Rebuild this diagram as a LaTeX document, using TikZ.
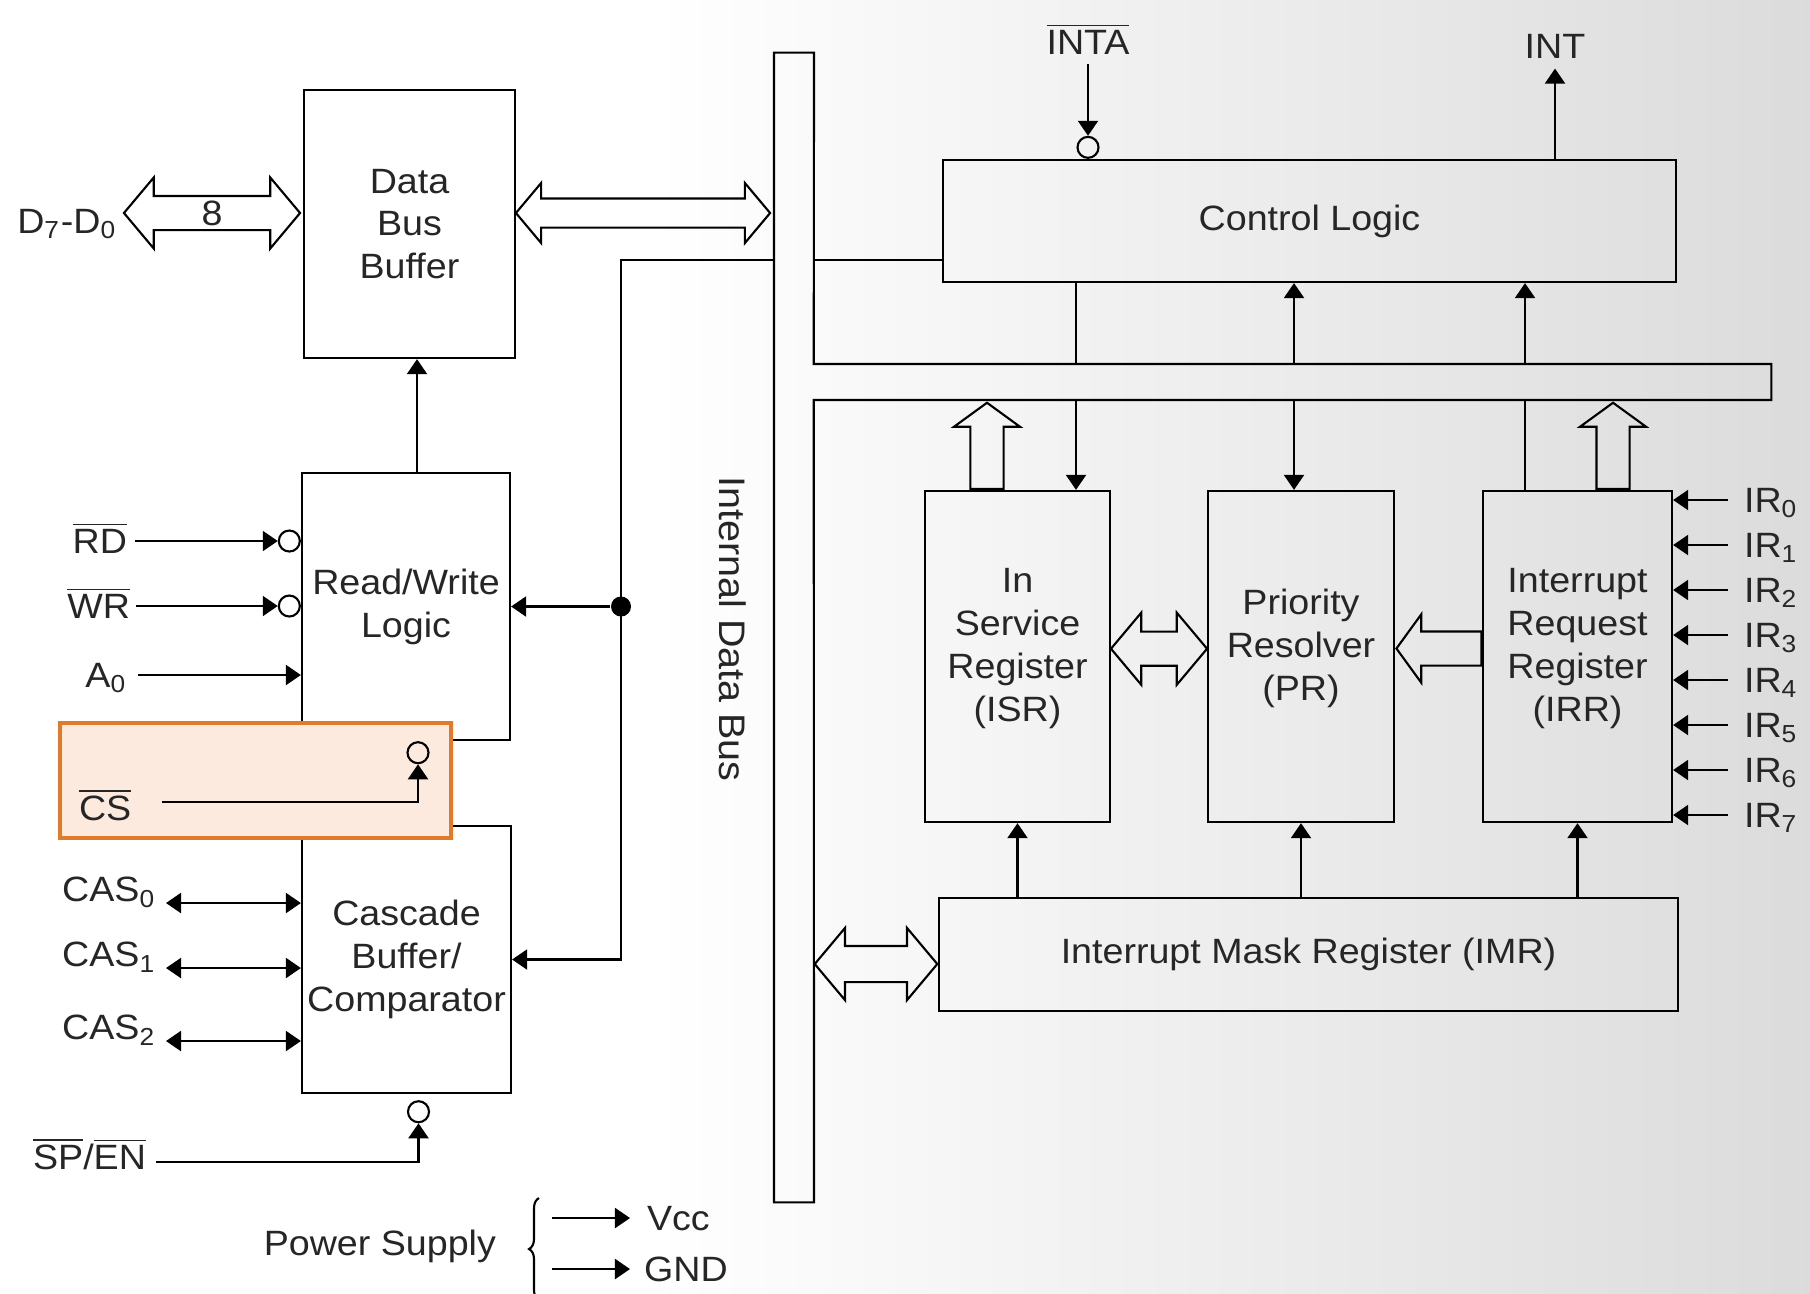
\documentclass[tikz,border=0pt]{standalone}
\usepackage{fontspec}
\setmainfont{Liberation Sans}[FakeStretch=1.07]
\usetikzlibrary{arrows.meta, positioning, shapes.arrows, calc, decorations.pathreplacing}

\definecolor{csfill}{HTML}{FDEADF}
\definecolor{csline}{HTML}{E07B2C}
\newcommand{\ovl}[1]{$\overline{\mbox{#1}}$}
\pgfdeclarehorizontalshading{backdrop}{100bp}{color(0bp)=(white); color(43bp)=(white); color(75bp)=(black!14); color(100bp)=(black!14)}

\begin{document}
\begin{tikzpicture}[
  x=0.01cm, y=-0.01cm,
  font=\fontsize{10}{12.2}\selectfont, text=black!85,
  line width=0.6pt,
  blk/.style={draw, inner sep=0pt, align=center},
  lbl/.style={inner sep=0pt, text height=0.25cm, text depth=0pt},
  arr/.style={-{Triangle[length=0.15cm, width=0.2cm]}},
  biarr/.style={{Triangle[length=0.15cm, width=0.2cm]}-{Triangle[length=0.15cm, width=0.2cm]}},
  bub/.style={circle, draw, inner sep=0pt, minimum size=0.21cm},
  jdot/.style={circle, fill, inner sep=0pt, minimum size=0.2cm},
  fat/.style={double arrow, draw, inner xsep=0pt, inner ysep=#1, text height=0pt, text depth=0pt, double arrow tip angle=100},
  fatone/.style={single arrow, draw, inner sep=#1, text height=0pt, text depth=0pt, single arrow tip angle=108},
  busrect/.style={inner sep=0pt, outer sep=0pt}
]
  % page and backdrop
  \useasboundingbox (0,0) rectangle (1810,1293);
  \shade[shading=backdrop] (0,0) rectangle (1810,1293);

  % blocks
  \node[blk, minimum width=2.11cm, minimum height=2.68cm] (dbb) at (409.5,224) {Data\\Bus\\Buffer};
  \node[blk, minimum width=2.08cm, minimum height=2.67cm] (rw) at (406,606.5) {Read/Write\\Logic};
  \node[blk, minimum width=2.09cm, minimum height=2.67cm] (cbc) at (406.5,959.5) {Cascade\\Buffer/\\Comparator};
  \node[blk, minimum width=7.33cm, minimum height=1.22cm] (ctl) at (1309.5,221) {Control Logic};
  \node[blk, text depth=0.23cm, minimum width=1.85cm, minimum height=3.31cm] (isr) at (1017.5,656.5) {In\\Service\\Register\\(ISR)};
  \node[blk, text depth=0.23cm, minimum width=1.86cm, minimum height=3.31cm] (pr) at (1301,656.5) {Priority\\Resolver\\(PR)};
  \node[blk, text depth=0.23cm, minimum width=1.89cm, minimum height=3.31cm] (irr) at (1577.5,656.5) {Interrupt\\Request\\Register\\(IRR)};
  \node[blk, minimum width=7.39cm, minimum height=1.13cm] (imr) at (1308.5,954.5) {Interrupt Mask Register (IMR)};

  % internal data bus
  \node[busrect, minimum width=0.4cm, minimum height=11.49cm] (vbus) at (794,627.5) {};
  \node[busrect, minimum width=9.57cm, minimum height=0.36cm] (hbus) at (1292.5,382) {};
  \draw (vbus.north west) -- (vbus.north east) -- (hbus.north west) -- (hbus.north east)
    -- (hbus.south east) -- (hbus.south west) -- (vbus.south east) -- (vbus.south west) -- cycle;
  \node[rotate=-90, font=\fontsize{10.5}{12}\selectfont] (busname) at (733,629) {Internal Data Bus};

  % wide data paths
  \node[fat=0.035cm, text height=0.25cm, minimum height=1.76cm, minimum width=0.69cm, double arrow head extend=0.185cm] (dpins) at (212,213) {8};
  \node[fat=0.135cm, minimum height=2.54cm, minimum width=0.58cm, double arrow head extend=0.155cm] (dlink) at (643,213) {};
  \node[fat=0.16cm, minimum height=0.96cm, minimum width=0.70cm, double arrow head extend=0.19cm] (isrpr) at (1159,648.7) {};
  \node[fat=0.17cm, minimum height=1.225cm, minimum width=0.70cm, double arrow head extend=0.18cm] (imrlink) at (876,964) {};
  \node[fatone=0.155cm, shape border rotate=90, minimum height=0.86cm, minimum width=0.64cm, single arrow head extend=0.165cm, anchor=tail] (isrup) at ([xshift=-0.305cm]isr.north) {};
  \node[fatone=0.155cm, shape border rotate=90, minimum height=0.86cm, minimum width=0.64cm, single arrow head extend=0.165cm, anchor=tail] (irrup) at ([xshift=0.355cm]irr.north) {};
  \node[fatone=0.16cm, shape border rotate=180, minimum height=0.85cm, minimum width=0.667cm, single arrow head extend=0.17cm, anchor=tip] (irrpr) at ([yshift=0.08cm]pr.east) {};

  % control logic and bus taps
  \coordinate (xa) at (1076,0);
  \coordinate (xb) at (1294,0);
  \coordinate (xc) at (1525,0);
  \draw (ctl.south -| xa) -- (hbus.north -| xa);
  \draw[arr] (hbus.south -| xa) -- (isr.north -| xa);
  \draw[arr] (hbus.north -| xb) -- (ctl.south -| xb);
  \draw[arr] (hbus.south -| xb) -- (pr.north -| xb);
  \draw[arr] (hbus.north -| xc) -- (ctl.south -| xc);
  \draw (hbus.south -| xc) -- (irr.north -| xc);
  \draw[arr] (imr.north -| isr.south) -- (isr.south);
  \draw[arr] (imr.north -| pr.south) -- (pr.south);
  \draw[arr] (imr.north -| irr.south) -- (irr.south);

  \node[lbl] (inta) at (1088,42) {\ovl{INTA}};
  \node[bub, anchor=south] (intab) at (inta |- ctl.north) {};
  \draw[arr] ([yshift=-0.08cm]inta.south) -- (intab.north);
  \node[lbl] (int) at (1555,46) {INT};
  \draw[arr] (ctl.north -| int) -- ([yshift=-0.09cm]int.south);

  % interrupt request inputs
  \foreach \i in {0,...,7} {
    \node[lbl, anchor=west] (ir\i) at (1743,{500+45*\i}) {IR\textsubscript{\i}};
    \draw[arr] ([xshift=-0.15cm]ir\i.west) -- (ir\i.west -| irr.east);
  }

  % left side: bus tap to R/W and cascade
  \coordinate (tap) at (621,260);
  \draw[arr] (tap -| vbus.west) -- (tap) |- (cbc.east);
  \draw (tap -| vbus.east) -- (tap -| ctl.west);
  \node[jdot] (jn) at (tap |- rw.east) {};
  \draw[arr] (jn) -- (rw.east);
  \draw[arr] ([xshift=0.11cm]rw.north) -- ([xshift=0.11cm]rw.north |- dbb.south);

  \node[lbl, anchor=east] (dpin) at (118,221) {D\textsubscript{7}-D\textsubscript{0}};
  \node[lbl, anchor=east] (rd) at (128,541) {\ovl{RD}};
  \node[bub, anchor=east] (rdb) at (rw.west |- rd.east) {};
  \draw[arr] ([xshift=0.07cm]rd.east) -- (rdb.west);
  \node[lbl, anchor=east] (wr) at (131,606) {\ovl{WR}};
  \node[bub, anchor=east] (wrb) at (rw.west |- wr.east) {};
  \draw[arr] ([xshift=0.05cm]wr.east) -- (wrb.west);
  \node[lbl, anchor=east] (a0) at (128,675) {A\textsubscript{0}};
  \draw[arr] ([xshift=0.1cm]a0.east) -- (a0.east -| rw.west);

  % chip select, highlighted
  \node[draw=csline, fill=csfill, line width=1.1pt, minimum width=3.91cm, minimum height=1.15cm, inner sep=0pt] (csbox) at (255.5,780.5) {};
  \node[lbl, anchor=west] (cs) at (78,808) {\ovl{CS}};
  \node[bub, anchor=north] (csb) at ([xshift=0.12cm]rw.south) {};
  \draw[arr] ([xshift=0.3cm,yshift=0.06cm]cs.east) -| (csb.south);

  % cascade lines
  \foreach \i/\y in {0/903, 1/968, 2/1041} {
    \node[lbl, anchor=south east] (cas\i) at (157,\y) {CAS\textsubscript{\i}};
    \draw[biarr] ([xshift=0.09cm]cas\i.south east) -- (cas\i.south -| cbc.west);
  }

  \node[lbl, anchor=west] (spen) at (32,1157) {\ovl{SP}/\ovl{EN}};
  \node[bub, anchor=north] (spb) at ([xshift=0.12cm,yshift=-0.06cm]cbc.south) {};
  \draw[arr] ([xshift=0.09cm,yshift=-0.05cm]spen.east) -| (spb.south);

  % power
  \node[anchor=east, inner sep=0pt] (pwr) at (497,1246) {Power Supply};
  \draw[decorate, decoration={brace, amplitude=0.1cm}] (539,1300) -- (539,1198);
  \node[lbl, anchor=west] (vcc) at (646,1218) {Vcc};
  \draw[arr] ([xshift=-0.94cm]vcc.west) -- ([xshift=-0.16cm]vcc.west);
  \node[lbl, anchor=west] (gnd) at (643,1269) {GND};
  \draw[arr] ([xshift=-0.91cm]gnd.west) -- ([xshift=-0.13cm]gnd.west);
\end{tikzpicture}
\end{document}
